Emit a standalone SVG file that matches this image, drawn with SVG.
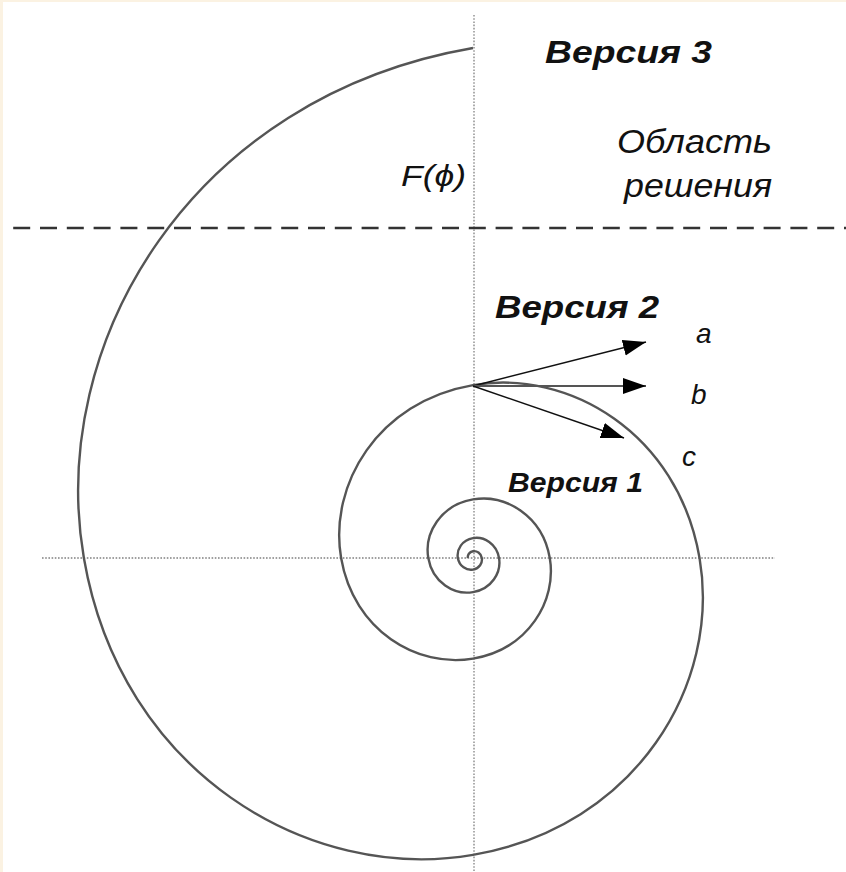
<svg xmlns="http://www.w3.org/2000/svg" width="846" height="872" viewBox="0 0 846 872">
<style>
.axis{stroke:#808080;stroke-width:1.3;stroke-dasharray:1.6 1.6;fill:none}
.spiral{stroke:#555;stroke-width:2.4;fill:none}
.dash{stroke:#333;stroke-width:2.6;stroke-dasharray:17 9.8;fill:none}
.arr{stroke:#111;stroke-width:1.5;fill:none;marker-end:url(#ah)}
.t{font-family:"Liberation Sans",Arial,sans-serif;fill:#111;font-style:italic}
.b{font-weight:bold}
</style>
<defs>
<marker id="ah" markerUnits="userSpaceOnUse" markerWidth="24" markerHeight="18" refX="23" refY="8" orient="auto">
<path d="M0,0 L23,8 L0,16 z" fill="#000"/>
</marker>
</defs>
<rect x="0" y="0" width="846" height="872" fill="#fbf2e2"/>
<rect x="3" y="2" width="843" height="870" fill="#fff"/>
<g id="axes">
<line class="axis" x1="474" y1="15" x2="474" y2="872"/>
<line class="axis" x1="42" y1="558" x2="775" y2="558"/>
</g>
<g id="boundary">
<line class="dash" x1="13.2" y1="228" x2="846" y2="228"/>
</g>
<g id="spiral">
<path class="spiral" d="M473,48 C191.33,96.5 46.86,343.08 83.87,558 C120.88,772.92 309.02,883.15 473,854.91 C636.98,826.67 721.1,683.12 699.55,558 C678,432.88 568.47,368.7 473,385.14 C377.53,401.58 328.57,485.16 341.11,558 C353.65,630.84 417.42,668.2 473,658.63 C528.58,649.06 557.08,600.41 549.78,558 C542.48,515.59 505.35,493.85 473,499.42 C440.65,504.99 424.05,533.31 428.3,558 C432.55,582.69 454.16,595.35 473,592.11 C491.84,588.87 501.49,572.37 499.02,558 C496.55,543.63 483.97,536.25 473,538.14 C462.03,540.03 456.41,549.63 457.85,558 C459.29,566.37 466.62,570.66 473,569.56 C479.38,568.46 482.66,562.87 481.82,558 C480.98,553.13 476.72,550.63 473,551.27 C469.28,551.91 467.37,555.16 467.86,558"/>
</g>
<g id="connectors">
<line class="arr" x1="473" y1="386" x2="646" y2="342"/>
<line class="arr" x1="473" y1="386" x2="646" y2="386" style="stroke:#555;stroke-width:2"/>
<line class="arr" x1="473" y1="386" x2="624" y2="438"/>
</g>
<g id="version3"><text class="t b" x="545" y="63" font-size="32" textLength="167" lengthAdjust="spacingAndGlyphs">Версия 3</text></g>
<g id="region"><text class="t" x="617" y="153" font-size="33" textLength="155" lengthAdjust="spacingAndGlyphs">Область</text>
<text class="t" x="624" y="197" font-size="33" textLength="148" lengthAdjust="spacingAndGlyphs">решения</text></g>
<g id="func"><text class="t" x="401" y="186" font-size="30" textLength="65" lengthAdjust="spacingAndGlyphs">F(ϕ)</text></g>
<g id="version2"><text class="t b" x="495" y="318" font-size="32" textLength="164" lengthAdjust="spacingAndGlyphs">Версия 2</text></g>
<g id="version1"><text class="t b" x="508" y="492" font-size="27" textLength="135" lengthAdjust="spacingAndGlyphs">Версия 1</text></g>
<g id="labels">
<text class="t" x="696" y="343" font-size="28">a</text>
<text class="t" x="691" y="404" font-size="28">b</text>
<text class="t" x="682" y="466" font-size="28">c</text>
</g>
</svg>
